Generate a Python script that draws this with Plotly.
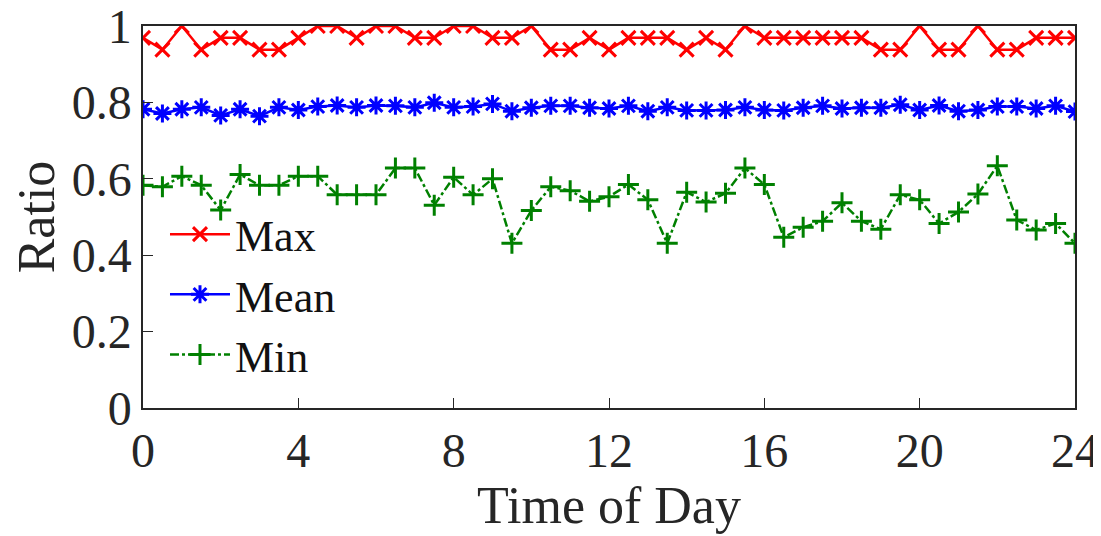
import plotly.graph_objects as go

hours = [i * 0.5 for i in range(49)]

max_ratio = [0.969, 0.938, 1.0, 0.938, 0.969, 0.969, 0.938, 0.938, 0.969, 1.0,
             1.0, 0.969, 1.0, 1.0, 0.969, 0.969, 1.0, 1.0, 0.969, 0.969,
             1.0, 0.938, 0.938, 0.969, 0.938, 0.969, 0.969, 0.969, 0.938, 0.969,
             0.938, 1.0, 0.969, 0.969, 0.969, 0.969, 0.969, 0.969, 0.938, 0.938,
             1.0, 0.938, 0.938, 1.0, 0.938, 0.938, 0.969, 0.969, 0.969]

mean_ratio = [0.782, 0.771, 0.782, 0.787, 0.766, 0.782, 0.764, 0.787, 0.780, 0.789,
              0.792, 0.787, 0.792, 0.791, 0.787, 0.799, 0.787, 0.789, 0.796, 0.777,
              0.786, 0.791, 0.791, 0.786, 0.784, 0.791, 0.777, 0.787, 0.779, 0.779,
              0.780, 0.787, 0.780, 0.779, 0.786, 0.791, 0.784, 0.786, 0.786, 0.794,
              0.780, 0.792, 0.777, 0.780, 0.789, 0.789, 0.784, 0.791, 0.776]

min_ratio = [0.583, 0.579, 0.607, 0.583, 0.518, 0.611, 0.583, 0.583, 0.607, 0.607,
             0.558, 0.558, 0.558, 0.628, 0.628, 0.531, 0.604, 0.558, 0.600, 0.431,
             0.517, 0.579, 0.569, 0.541, 0.553, 0.585, 0.545, 0.431, 0.565, 0.539,
             0.562, 0.628, 0.585, 0.447, 0.473, 0.489, 0.537, 0.489, 0.468, 0.558,
             0.545, 0.483, 0.513, 0.560, 0.634, 0.492, 0.466, 0.483, 0.431]

x_ticks = [0, 4, 8, 12, 16, 20, 24]
y_ticks = [0, 0.2, 0.4, 0.6, 0.8, 1]
y_tick_labels = ["0", "0.2", "0.4", "0.6", "0.8", "1"]

FONT = "Liberation Serif"

fig = go.Figure()
fig.add_trace(go.Scatter(
    x=hours, y=max_ratio, name="Max", mode="lines+markers",
    line=dict(color="#ff0000", width=2.5),
    marker=dict(symbol="x-thin-open", size=14, line=dict(color="#ff0000", width=3)),
))
fig.add_trace(go.Scatter(
    x=hours, y=mean_ratio, name="Mean", mode="lines+markers",
    line=dict(color="#0000ff", width=2.5),
    marker=dict(symbol="asterisk-open", size=15, line=dict(color="#0000ff", width=3)),
))
fig.add_trace(go.Scatter(
    x=hours, y=min_ratio, name="Min", mode="lines+markers",
    line=dict(color="#008000", width=2.5, dash="dashdot"),
    marker=dict(symbol="cross-thin-open", size=15, line=dict(color="#008000", width=3)),
))

axis_common = dict(
    showgrid=False, zeroline=False, showline=True, linecolor="#262626",
    linewidth=1.5, mirror=True, ticks="inside", ticklen=10, tickcolor="#262626",
    tickfont=dict(family=FONT, size=48, color="#262626"), automargin=False,
    ticklabeloverflow="allow",
)

# page body has an 8px default margin; size the figure so the plot area
# lands where the reference has it
fig.update_layout(
    width=1093, height=528,
    margin=dict(l=135, r=26, t=18, b=128),
    paper_bgcolor="white", plot_bgcolor="white",
    font=dict(family=FONT, color="#262626"),
    xaxis=dict(range=[0, 24], tickvals=x_ticks,
               title=dict(text="Time of Day", font=dict(family=FONT, size=52), standoff=0),
               **axis_common),
    yaxis=dict(range=[0, 1], tickvals=y_ticks, ticktext=y_tick_labels,
               title=dict(text="Ratio", font=dict(family=FONT, size=52), standoff=0),
               **axis_common),
    legend=dict(x=0.0236, y=0.547, xanchor="left", yanchor="top",
                font=dict(family=FONT, size=44, color="#111111"),
                bgcolor="rgba(255,255,255,0)", itemwidth=60, tracegroupgap=0),
    showlegend=True,
)

fig.write_html("out.html")
